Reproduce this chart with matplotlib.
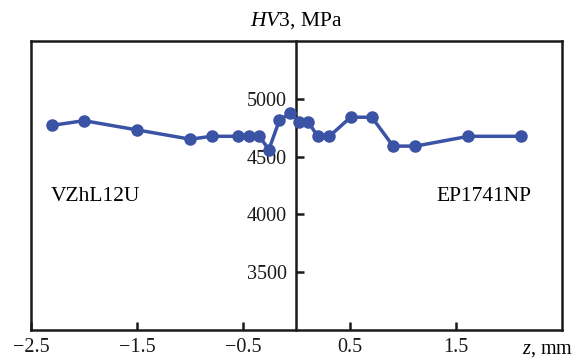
import matplotlib
matplotlib.use("Agg")
import matplotlib.pyplot as plt
from matplotlib.lines import Line2D

plt.rcParams['font.family'] = ['Liberation Serif', 'DejaVu Serif']
plt.rcParams['mathtext.fontset'] = 'custom'
plt.rcParams['mathtext.rm'] = 'Liberation Serif'
plt.rcParams['mathtext.it'] = 'Liberation Serif:italic'
plt.rcParams['axes.unicode_minus'] = True

# hardness profile across the weld, z in mm, HV3 in MPa
z = [-2.3, -2.0, -1.5, -1.0, -0.8, -0.55, -0.45, -0.35, -0.26, -0.16, -0.06,
     0.02, 0.11, 0.2, 0.31, 0.51, 0.71, 0.91, 1.12, 1.62, 2.11]
hv = [4770, 4810, 4730, 4650, 4675, 4675, 4675, 4675, 4560, 4815, 4875,
      4800, 4800, 4675, 4675, 4840, 4840, 4590, 4590, 4675, 4675]

xticks = [-2.5, -1.5, -0.5, 0.5, 1.5]
xlabels = ['\u22122.5', '\u22121.5', '\u22120.5', '0.5', '1.5']
yticks = [3500, 4000, 4500, 5000]

fig = plt.figure(figsize=(5.74, 3.59), dpi=100)
ax = fig.add_axes([0.054, 0.081, 0.925, 0.805])

ax.plot(z, hv, color='#3a53a4', lw=2.5, marker='o', ms=8, zorder=3)

ax.set_xlim(-2.5, 2.5)
ax.set_ylim(3000, 5500)

# vertical axis sits at z = 0
ax.spines['left'].set_position(('data', 0))
for s in ax.spines.values():
    s.set_linewidth(1.8)
    s.set_color('#1a1a1a')
# left edge of the frame
ax.add_line(Line2D([0, 0], [0, 1], transform=ax.transAxes, color='#1a1a1a',
                   lw=1.8, clip_on=False))

ax.set_xticks(xticks)
ax.set_xticklabels(xlabels)
ax.set_yticks(yticks)
ax.tick_params(axis='x', direction='in', length=6, width=1.8, pad=6,
               labelsize=14.5, colors='#1a1a1a')
ax.tick_params(axis='y', direction='in', length=6, width=1.8, pad=7,
               labelsize=14.5, colors='#1a1a1a')

ax.text(0.5, 1.035, r'$HV$3, MPa', transform=ax.transAxes, ha='center',
        va='bottom', fontsize=15.5)
fig.text(0.999, 0.027, r'$z$, mm', ha='right', va='center', fontsize=14.5)

ax.text(-2.31, 4150, 'VZhL12U', ha='left', va='center', fontsize=15.5)
ax.text(2.21, 4150, 'EP1741NP', ha='right', va='center', fontsize=15.5)

fig.savefig('out.png', dpi=100)
